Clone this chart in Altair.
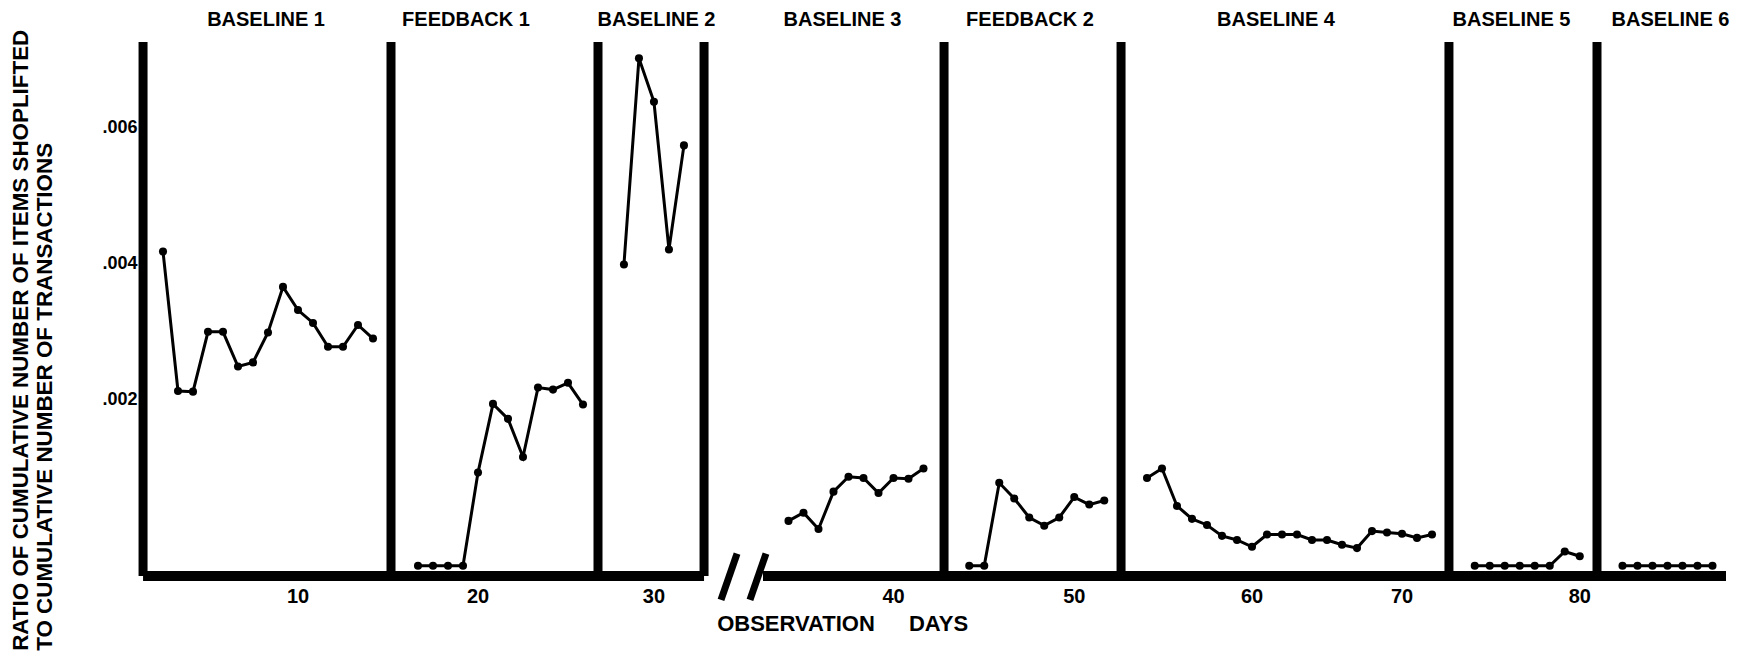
import altair as alt
import pandas as pd

# ---------------- data ----------------
phases = ["BASELINE 1", "FEEDBACK 1", "BASELINE 2", "BASELINE 3",
          "FEEDBACK 2", "BASELINE 4", "BASELINE 5", "BASELINE 6"]
start_days = [1, 16, 28, 33, 43, 53, 73, 81]

baseline1 = [0.00462, 0.00257, 0.00256, 0.00344, 0.00344, 0.00293, 0.00299, 0.00343,
             0.00410, 0.00376, 0.00357, 0.00322, 0.00322, 0.00354, 0.00334]
feedback1 = [0, 0, 0, 0, 0.00137, 0.00238, 0.00216, 0.00160, 0.00262, 0.00259,
             0.00269, 0.00237]
baseline2 = [0.00443, 0.00746, 0.00682, 0.00465, 0.00618]
baseline3 = [0.00066, 0.00078, 0.00054, 0.00109, 0.00131, 0.00129, 0.00107, 0.00129,
             0.00128, 0.00143]
feedback2 = [0, 0, 0.00122, 0.00099, 0.00071, 0.00059, 0.00071, 0.00101, 0.00090, 0.00096]
baseline4 = [0.00129, 0.00143, 0.00088, 0.00069, 0.00060, 0.00044, 0.00038, 0.00028,
             0.00046, 0.00046, 0.00046, 0.00038, 0.00038, 0.00031, 0.00026, 0.00051,
             0.00049, 0.00047, 0.00041, 0.00046]
baseline5 = [0, 0, 0, 0, 0, 0, 0.00021, 0.00014]
baseline6 = [0, 0, 0, 0, 0, 0, 0]

x_ticks = [10, 20, 30, 40, 50, 60, 70, 80]
y_ticks = [0.002, 0.004, 0.006]
y_tick_labels = [".002", ".004", ".006"]

y_title_1 = "RATIO OF CUMULATIVE NUMBER OF ITEMS SHOPLIFTED"
y_title_2 = "TO CUMULATIVE NUMBER OF TRANSACTIONS"
x_title_1 = "OBSERVATION"
x_title_2 = "DAYS"

# ---------------- layout (positions in day units) ----------------
phase_shift = [0, 2, 3.73, 9.7, 11.75, 13.6, 15.45, 17.3]   # extra room for phase lines / axis break
phase_lines = [-0.33, 16.2, 30.0, 37.07, 53.07, 64.87, 86.73, 96.6]
title_pos = [7.87, 21.2, 33.9, 46.3, 58.8, 75.2, 90.9, 101.5]
axis_segments = [(-0.33, 37.07), (41.0, 105.2)]
break_marks = [(39.27, 0.00018, 38.2, -0.0005), (41.2, 0.00018, 40.13, -0.0005)]
X_DOM = [0, 105.2]
Y_DOM = [-0.00015, 0.0077]
Y_TOP = Y_DOM[1]
Y_BOT = Y_DOM[0]
FONT = "Liberation Sans"

series = [baseline1, feedback1, baseline2, baseline3, feedback2, baseline4, baseline5, baseline6]

rows = []
for ph, start, shift, vals in zip(phases, start_days, phase_shift, series):
    for i, v in enumerate(vals):
        day = start + i
        rows.append({"phase": ph, "day": day, "pos": day + shift, "value": v})
df = pd.DataFrame(rows)


def pos_of_day(d):
    idx = max(i for i, s in enumerate(start_days) if s <= d)
    return d + phase_shift[idx]


xt = pd.DataFrame({"pos": [pos_of_day(d) for d in x_ticks],
                   "label": [str(d) for d in x_ticks],
                   "y": [-0.000456] * len(x_ticks)})
yt = pd.DataFrame({"value": y_ticks, "label": y_tick_labels, "pos": [-0.7] * len(y_ticks)})
titles = pd.DataFrame({"pos": title_pos, "label": phases, "y": [0.00803] * len(phases)})
vlines = pd.DataFrame({"pos": phase_lines, "y": [Y_BOT] * len(phase_lines),
                       "y2": [Y_TOP] * len(phase_lines)})
hlines = pd.DataFrame({"x": [a for a, b in axis_segments], "x2": [b for a, b in axis_segments],
                       "y": [Y_BOT] * len(axis_segments)})
breaks = pd.DataFrame({"x": [b[0] for b in break_marks], "y": [b[1] for b in break_marks],
                       "x2": [b[2] for b in break_marks], "y2": [b[3] for b in break_marks]})
xtitle = pd.DataFrame({"pos": [43.2, 52.7], "label": [x_title_1, x_title_2],
                       "y": [-0.000853, -0.000853]})
ytitle = pd.DataFrame({"pos": [-8.5, -6.85], "label": [y_title_1, y_title_2],
                       "y": [-0.00125, -0.00125]})

xs = alt.Scale(domain=X_DOM, nice=False, zero=False)
ys = alt.Scale(domain=Y_DOM, nice=False, zero=False)

line = alt.Chart(df).mark_line(color="black", strokeWidth=3).encode(
    x=alt.X("pos:Q", scale=xs, axis=None),
    y=alt.Y("value:Q", scale=ys, axis=None),
    detail="phase:N",
)
pts = alt.Chart(df).mark_circle(color="black", size=65, opacity=1).encode(
    x=alt.X("pos:Q", scale=xs, axis=None),
    y=alt.Y("value:Q", scale=ys, axis=None),
)
vrules = alt.Chart(vlines).mark_rule(color="black", strokeWidth=9).encode(
    x=alt.X("pos:Q", scale=xs, axis=None),
    y=alt.Y("y:Q", scale=ys, axis=None),
    y2="y2:Q",
)
hrules = alt.Chart(hlines).mark_rule(color="black", strokeWidth=10).encode(
    x=alt.X("x:Q", scale=xs, axis=None),
    x2="x2:Q",
    y=alt.Y("y:Q", scale=ys, axis=None),
)
brk = alt.Chart(breaks).mark_rule(color="black", strokeWidth=7).encode(
    x=alt.X("x:Q", scale=xs, axis=None),
    x2="x2:Q",
    y=alt.Y("y:Q", scale=ys, axis=None),
    y2="y2:Q",
)
xlab = alt.Chart(xt).mark_text(font=FONT, fontWeight="bold", fontSize=20,
                               baseline="middle", align="center", color="black").encode(
    x=alt.X("pos:Q", scale=xs, axis=None),
    y=alt.Y("y:Q", scale=ys, axis=None),
    text="label:N",
)
ylab = alt.Chart(yt).mark_text(font=FONT, fontWeight="bold", fontSize=18, dy=-30,
                               baseline="middle", align="right", color="black").encode(
    x=alt.X("pos:Q", scale=xs, axis=None),
    y=alt.Y("value:Q", scale=ys, axis=None),
    text="label:N",
)
tlab = alt.Chart(titles).mark_text(font=FONT, fontWeight="bold", fontSize=20,
                                   baseline="middle", align="center", color="black").encode(
    x=alt.X("pos:Q", scale=xs, axis=None),
    y=alt.Y("y:Q", scale=ys, axis=None),
    text="label:N",
)
xtl = alt.Chart(xtitle).mark_text(font=FONT, fontWeight="bold", fontSize=22,
                                  baseline="middle", align="center", color="black").encode(
    x=alt.X("pos:Q", scale=xs, axis=None),
    y=alt.Y("y:Q", scale=ys, axis=None),
    text="label:N",
)
ytl = alt.Chart(ytitle).mark_text(font=FONT, fontWeight="bold", fontSize=22.4, angle=270,
                                  baseline="middle", align="left", color="black").encode(
    x=alt.X("pos:Q", scale=xs, axis=None),
    y=alt.Y("y:Q", scale=ys, axis=None),
    text="label:N",
)

chart = alt.layer(vrules, hrules, brk, line, pts, xlab, ylab, tlab, xtl, ytl).properties(
    width=1578,
    height=534,
    autosize=alt.AutoSizeParams(type="none"),
    padding={"left": 140, "top": 34, "right": 6, "bottom": 79},
    background="white",
).configure_view(strokeWidth=0)

chart.save("out.html", embed_options={"renderer": "svg", "actions": False})
